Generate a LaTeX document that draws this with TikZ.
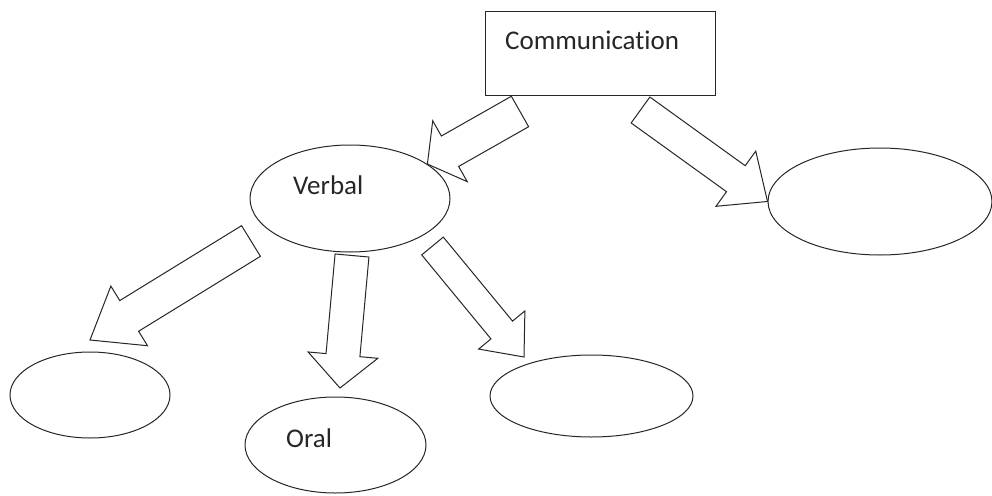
\documentclass[tikz,border=0pt]{standalone}
\usepackage{fontspec}
\setmainfont[Ligatures=NoCommon]{Carlito}
\usetikzlibrary{shapes.geometric,calc}

\tikzset{
  box/.style={draw=black!85, line width=1pt, rectangle, inner sep=0pt},
  oval/.style={draw=black!85, line width=1pt, ellipse, inner sep=0pt},
  lbl/.style={inner sep=0pt, anchor=base west, text=black!85, font=\fontsize{27}{30}\selectfont},
  fat arrow/.style={draw=black!85, line width=1pt, line join=miter, fill=white}
}

% from, to, shaft half width, head half width, head length
\newcommand{\fatarrow}[5]{%
  \coordinate (fa-n) at ($(#2)!#5!(#1)$);
  \draw[fat arrow] ($(#1)!#3!90:(#2)$) -- ($(fa-n)!#3!-90:(#1)$) -- ($(fa-n)!#4!-90:(#1)$) -- (#2)
    -- ($(fa-n)!#4!90:(#1)$) -- ($(fa-n)!#3!90:(#1)$) -- ($(#1)!#3!-90:(#2)$) -- cycle;}

\begin{document}
\begin{tikzpicture}[x=1pt, y=-1pt]
  \useasboundingbox (0,0) rectangle (992,495);

  \node[box, minimum width=230pt, minimum height=83pt] (comm) at (600,53.5) {};
  \node[oval, minimum width=200pt, minimum height=107pt] (verbal) at (350,198.5) {};
  \node[oval, minimum width=224pt, minimum height=107pt] (blank) at (880,201.5) {};
  \node[oval, minimum width=160pt, minimum height=86pt] (left) at (90,395) {};
  \node[oval, minimum width=181pt, minimum height=96pt] (oral) at (335.5,445) {};
  \node[oval, minimum width=203pt, minimum height=82pt] (mid) at (591.5,396) {};

  \node[lbl] (comm-txt) at (505,50) {Communication};
  \node[lbl] (verbal-txt) at (293,194) {Verbal};
  \node[lbl] (oral-txt) at (286,447) {Oral};

  \coordinate (c1) at (520,111.5);
  \coordinate (c2) at (640.5,110);
  \coordinate (v1) at (251,241);
  \coordinate (v2) at (352,255.5);
  \coordinate (v3) at (432.5,246);
  \coordinate (t3) at (90,340);
  \coordinate (t4) at (340,388);
  \coordinate (t5) at (524,357);

  \fatarrow{c1}{verbal.24}{17.5pt}{35pt}{26pt}
  \fatarrow{c2}{blank.west}{16pt}{34pt}{39pt}
  \fatarrow{v1}{t3}{18pt}{35pt}{46pt}
  \fatarrow{v2}{t4}{17pt}{35pt}{33pt}
  \fatarrow{v3}{t5}{14pt}{30pt}{35pt}

\end{tikzpicture}
\end{document}
